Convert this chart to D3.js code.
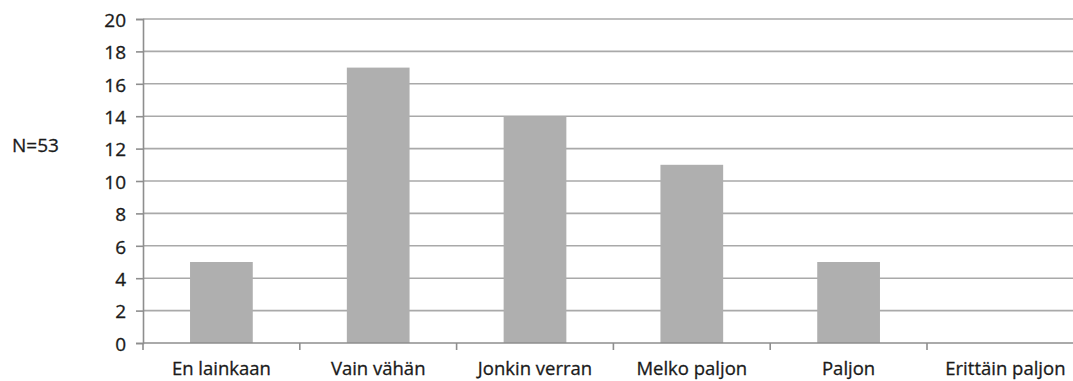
<!DOCTYPE html>
<html>
<head>
<meta charset="utf-8">
<script src="https://cdn.jsdelivr.net/npm/d3@7"></script>
<style>
  html, body { margin: 0; padding: 0; background: #fff; }
  svg { display: block; }
  text { font-family: "Open Sans", "Noto Sans", sans-serif; fill: #1a1a1a; stroke: #1a1a1a; stroke-width: 0.3px; }
</style>
</head>
<body>
<svg id="chart" width="1073" height="381"></svg>
<script>
// Answer categories and respondent counts
const categories = ["En lainkaan", "Vain vähän", "Jonkin verran", "Melko paljon", "Paljon", "Erittäin paljon"];
const counts = [5, 17, 14, 11, 5, 0];
const yTicks = [0, 2, 4, 6, 8, 10, 12, 14, 16, 18, 20];
const sampleLabel = "N=53";

const svg = d3.select("#chart");
const W = 1073;
const fontSize = 19;

const plotLeft = 143, plotRight = 1083.8, plotTop = 19, plotBottom = 343;

const x = d3.scaleBand()
  .domain(categories)
  .range([plotLeft, plotRight])
  .paddingInner(0.6)
  .paddingOuter(0.3);

const y = d3.scaleLinear().domain([0, 20]).range([plotBottom, plotTop]);

const gridColor = "#a9a9a9";
const axisColor = "#8e8e8e";

// horizontal gridlines
svg.append("g")
  .selectAll("line")
  .data(yTicks.filter(d => d > 0))
  .join("line")
  .attr("x1", plotLeft).attr("x2", W)
  .attr("y1", d => y(d)).attr("y2", d => y(d))
  .attr("stroke", gridColor)
  .attr("stroke-width", 1.6);

// y axis
const yAxis = d3.axisLeft(y).tickValues(yTicks).tickSize(7).tickPadding(10);
const gy = svg.append("g").attr("transform", `translate(${plotLeft},0)`).call(yAxis);
gy.attr("font-size", null).attr("font-family", null);
gy.select(".domain").attr("stroke", axisColor).attr("stroke-width", 1.6);
gy.selectAll(".tick line").attr("stroke", axisColor).attr("stroke-width", 1.6);
gy.selectAll(".tick text")
  .attr("font-size", fontSize)
  .attr("dy", "0.38em")
  .attr("fill", "#1a1a1a");

// bars
svg.append("g")
  .selectAll("rect")
  .data(categories.map((c, i) => ({ c, v: counts[i] })))
  .join("rect")
  .attr("x", d => x(d.c))
  .attr("width", x.bandwidth())
  .attr("y", d => y(d.v))
  .attr("height", d => y(0) - y(d.v))
  .attr("fill", "#afafaf");

// x axis baseline with category separator ticks
const step = x.step();
const sep = d3.range(categories.length + 1).map(i => plotLeft + i * step);
svg.append("line")
  .attr("x1", plotLeft).attr("x2", W)
  .attr("y1", y(0)).attr("y2", y(0))
  .attr("stroke", axisColor).attr("stroke-width", 1.6);
svg.append("g")
  .selectAll("line")
  .data(sep)
  .join("line")
  .attr("x1", d => d).attr("x2", d => d)
  .attr("y1", y(0)).attr("y2", y(0) + 7)
  .attr("stroke", axisColor).attr("stroke-width", 1.6);

// category labels
svg.append("g")
  .selectAll("text")
  .data(categories)
  .join("text")
  .attr("x", d => x(d) + x.bandwidth() / 2)
  .attr("y", 375)
  .attr("text-anchor", "middle")
  .attr("font-size", 18.5)
  .text(d => d);

// sample size note
svg.append("text")
  .attr("x", 12)
  .attr("y", 152)
  .attr("font-size", fontSize)
  .text(sampleLabel);
</script>
</body>
</html>
